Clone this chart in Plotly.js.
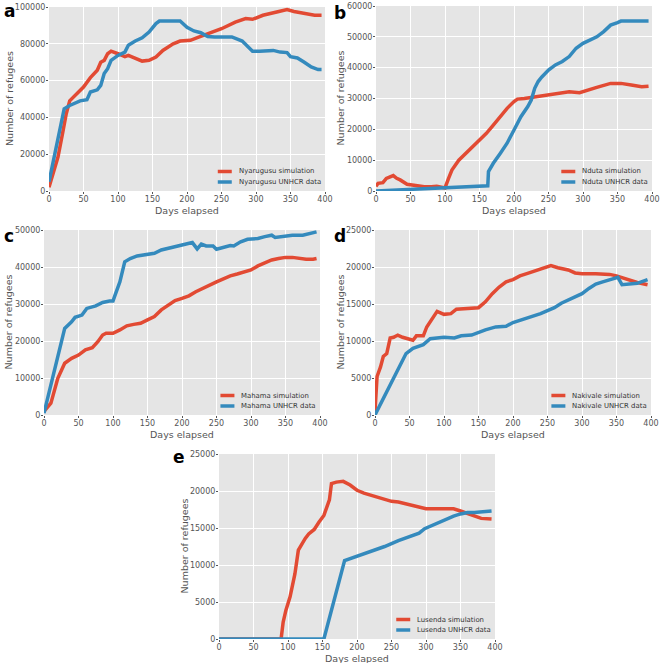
<!DOCTYPE html>
<html>
<head>
<meta charset="utf-8">
<script src="https://cdn.plot.ly/plotly-3.0.1.min.js"></script>
<style>html,body{margin:0;padding:0;background:#fff;}#chart{width:660px;height:663px;}</style>
</head>
<body>
<div id="chart"></div>
<script>
// ---- Data ----
var nyarugusuSimDays = [0,5,13,20,25,30,40,50,60,70,75,80,85,90,100,110,115,125,135,145,155,165,180,190,205,215,230,250,270,285,295,310,330,345,355,370,385,395];
var nyarugusuSim = [2000,8000,18500,32000,42000,49000,53000,56500,61600,65600,70000,71000,74600,76000,74600,73000,73700,72000,70600,71000,72800,76400,80000,81500,81900,83300,85500,88200,91800,93700,93300,95500,97300,98600,97600,96700,95500,95500];
var nyarugusuDataDays = [0,22,30,45,55,60,70,75,80,85,90,100,110,115,125,135,145,155,160,190,200,210,220,230,240,265,280,290,295,305,315,325,335,345,350,360,370,380,390,395];
var nyarugusuData = [5000,44700,46500,49000,49600,53800,55000,57400,63800,66500,71000,73700,75500,79200,81500,83300,86400,91000,92400,92400,89000,87000,86000,84000,83700,83700,81500,77400,76000,76000,76400,76400,75500,75200,73000,72300,70000,67400,66000,66000];

var ndutaSimDays = [0,3,10,15,25,30,35,45,60,70,80,88,95,100,105,110,120,130,140,150,160,170,180,190,200,205,215,240,260,280,295,305,320,340,355,370,385,395];
var ndutaSim = [1500,2500,2700,4100,5000,4100,3600,2200,1700,1400,1400,1500,1200,1000,4000,6800,10000,12200,14400,16500,18700,21400,24100,26800,29000,29800,30000,30800,31500,32200,31900,32500,33600,34900,34900,34400,33800,34000];
var ndutaDataDays = [0,160,162,163,170,180,190,200,210,220,225,230,235,240,250,260,270,280,290,300,310,320,330,340,350,355,395];
var ndutaData = [0,1600,1700,6300,9000,12200,15500,19800,24100,27400,29500,33300,35500,36900,39200,40900,42000,43600,46300,47900,49000,50000,51700,53800,54600,55100,55100];

var mahamaSimDays = [0,10,20,25,30,40,50,60,70,78,85,90,100,110,120,130,140,150,160,170,180,190,200,210,220,230,240,250,260,270,280,290,300,310,320,330,340,350,360,370,380,390,395];
var mahamaSim = [1000,3200,9900,12200,14000,15300,16200,17600,18200,19800,21600,22100,22100,23000,24100,24500,24800,25700,26600,28400,29700,30900,31500,32200,33300,34200,35300,36000,36800,37600,38100,38700,39200,40300,41200,41900,42300,42600,42600,42300,42100,42100,42300];
var mahamaDataDays = [0,30,40,45,55,62,75,85,95,100,103,110,117,125,135,150,160,170,180,195,210,215,222,228,235,245,250,260,270,275,285,295,310,320,330,335,350,360,375,385,390,395];
var mahamaData = [500,23400,25200,26400,27000,28800,29500,30400,30800,30800,32400,36000,41400,42300,43000,43400,43700,44600,45000,45700,46200,46600,44900,46200,45700,45700,44800,45300,45800,45700,46800,47500,47700,48200,48600,48000,48400,48600,48600,49100,49400,49500];

var nakivaleSimDays = [0,3,8,12,17,22,27,33,40,50,55,60,70,75,80,85,90,100,110,118,130,150,160,170,180,190,200,210,220,230,240,255,265,280,290,300,320,340,350,360,370,380,395];
var nakivaleSim = [500,5200,6500,7900,8300,10400,10500,10800,10500,10300,10100,10700,10700,11900,12600,13500,14000,13600,13700,14300,14400,14500,15300,16400,17300,18000,18300,18800,19100,19400,19700,20200,19900,19600,19200,19100,19100,19000,18800,18500,18200,17900,17600];
var nakivaleDataDays = [0,45,55,70,80,100,115,125,140,150,160,175,190,200,210,220,230,240,250,260,270,280,290,300,310,320,330,340,352,358,370,380,395];
var nakivaleData = [0,8300,9000,9500,10300,10500,10400,10700,10800,11200,11500,11900,12000,12500,12800,13000,13400,13700,14100,14500,15100,15500,16000,16400,17100,17700,18000,18300,18600,17600,17700,17800,18300];

var lusendaSimDays = [0,90,93,97,103,110,115,120,125,130,138,145,152,160,163,170,180,190,200,210,220,230,240,250,260,270,280,290,300,320,340,350,360,370,380,395];
var lusendaSim = [0,0,2300,3900,5700,8800,12000,12900,13600,14200,14800,15800,16700,18800,21000,21200,21300,20800,20100,19700,19400,19100,18900,18600,18500,18300,18100,17800,17600,17600,17600,17300,17000,16600,16300,16200];
var lusendaDataDays = [0,152,182,200,220,240,260,280,290,298,310,320,330,340,350,360,370,380,395];
var lusendaData = [0,0,10600,11200,11900,12500,13300,13900,14300,14900,15400,15800,16200,16600,16900,17100,17100,17200,17300];

var camps = ["Nyarugusu","Nduta","Mahama","Nakivale","Lusenda"];
var panelLetters = ["a","b","c","d","e"];
var xTitle = "Days elapsed";
var yTitle = "Number of refugees";
var yMax = [100000,60000,50000,25000,25000];
var yStep = [20000,10000,10000,5000,5000];

// ---- Layout geometry (pixels) ----
var W = 660, H = 663;
var boxes = [
  {l:49, r:325, t:7, b:191},
  {l:376, r:652, t:6, b:191},
  {l:44, r:320, t:230, b:415},
  {l:375, r:651, t:230, b:415},
  {l:219, r:495, t:454, b:639}
];
var letterPos = [[2,-1],[332,1],[2,224],[332,224],[171,445]];
var yTitleOffset = [40,36,36,35,35];

var RED = "#E24A33", BLUE = "#348ABD";
var FONT = "DejaVu Sans";
var LEG_SIZE = 6.9;
var simDays = [nyarugusuSimDays, ndutaSimDays, mahamaSimDays, nakivaleSimDays, lusendaSimDays];
var simVals = [nyarugusuSim, ndutaSim, mahamaSim, nakivaleSim, lusendaSim];
var dataDays = [nyarugusuDataDays, ndutaDataDays, mahamaDataDays, nakivaleDataDays, lusendaDataDays];
var dataVals = [nyarugusuData, ndutaData, mahamaData, nakivaleData, lusendaData];

var ctx = document.createElement("canvas").getContext("2d");
ctx.font = LEG_SIZE + "px '" + FONT + "'";

var traces = [];
var layout = {
  width: W, height: H,
  margin: {l:0, r:0, t:0, b:0},
  paper_bgcolor: "#ffffff",
  plot_bgcolor: "#E5E5E5",
  font: {family: FONT, size: 8, color: "#555555"},
  annotations: [],
  shapes: [],
  showlegend: false
};

for (var i = 0; i < 5; i++) {
  var n = i === 0 ? "" : String(i + 1);
  var bx = boxes[i];
  var simName = camps[i] + " simulation";
  var dataName = camps[i] + " UNHCR data";
  traces.push({
    x: simDays[i], y: simVals[i], type: "scatter", mode: "lines",
    name: simName, line: {color: RED, width: 3.5},
    xaxis: "x" + n, yaxis: "y" + n
  });
  traces.push({
    x: dataDays[i], y: dataVals[i], type: "scatter", mode: "lines",
    name: dataName, line: {color: BLUE, width: 3.5},
    xaxis: "x" + n, yaxis: "y" + n
  });
  var xd = [bx.l / W, bx.r / W];
  var yd = [1 - bx.b / H, 1 - bx.t / H];
  layout["xaxis" + n] = {
    domain: xd, anchor: "y" + n, range: [0, 400], dtick: 50, tick0: 0,
    showgrid: true, gridcolor: "#ffffff", gridwidth: 1, zeroline: false,
    ticks: "outside", ticklen: 2, tickcolor: "#555555",
    ticklabelstandoff: -2,
    tickfont: {family: FONT, size: 8, color: "#555555"},
    showline: false
  };
  layout["yaxis" + n] = {
    domain: yd, anchor: "x" + n, range: [0, yMax[i]], dtick: yStep[i], tick0: 0,
    tickformat: "d",
    showgrid: true, gridcolor: "#ffffff", gridwidth: 1, zeroline: false,
    ticks: "outside", ticklen: 2, tickcolor: "#555555",
    ticklabelstandoff: -1,
    tickfont: {family: FONT, size: 8, color: "#555555"},
    showline: false
  };
  // axis titles
  layout.annotations.push({
    text: xTitle, xref: "paper", yref: "paper",
    x: (bx.l + bx.r) / 2 / W, y: 1 - (bx.b + 19) / H, xanchor: "center", yanchor: "middle",
    showarrow: false, font: {family: FONT, size: 9.5, color: "#555555"}
  });
  layout.annotations.push({
    text: yTitle, xref: "paper", yref: "paper", textangle: -90,
    x: (bx.l - yTitleOffset[i]) / W, y: 1 - (bx.t + bx.b) / 2 / H, xanchor: "center", yanchor: "middle",
    showarrow: false, font: {family: FONT, size: 9.5, color: "#555555"}
  });
  // panel letter
  layout.annotations.push({
    text: "<b>" + panelLetters[i] + "</b>", xref: "paper", yref: "paper",
    x: letterPos[i][0] / W, y: 1 - letterPos[i][1] / H, xanchor: "left", yanchor: "top",
    showarrow: false, font: {family: FONT, size: 17, color: "#000000"}
  });
  // legend (drawn in the lower right corner of each panel)
  var textW = Math.max(ctx.measureText(simName).width, ctx.measureText(dataName).width);
  var textLeft = bx.r - 6 - textW;
  var rows = [[simName, RED, bx.b - 19.5], [dataName, BLUE, bx.b - 9]];
  for (var k = 0; k < 2; k++) {
    layout.shapes.push({
      type: "line", xref: "paper", yref: "paper",
      x0: (textLeft - 19) / W, x1: (textLeft - 5) / W,
      y0: 1 - rows[k][2] / H, y1: 1 - rows[k][2] / H,
      line: {color: rows[k][1], width: 3.5}
    });
    layout.annotations.push({
      text: rows[k][0], xref: "paper", yref: "paper",
      x: textLeft / W, y: 1 - rows[k][2] / H, xanchor: "left", yanchor: "middle",
      showarrow: false, font: {family: FONT, size: LEG_SIZE, color: "#333333"}
    });
  }
}

Plotly.newPlot("chart", traces, layout, {displayModeBar: false, staticPlot: true});
</script>
</body>
</html>
